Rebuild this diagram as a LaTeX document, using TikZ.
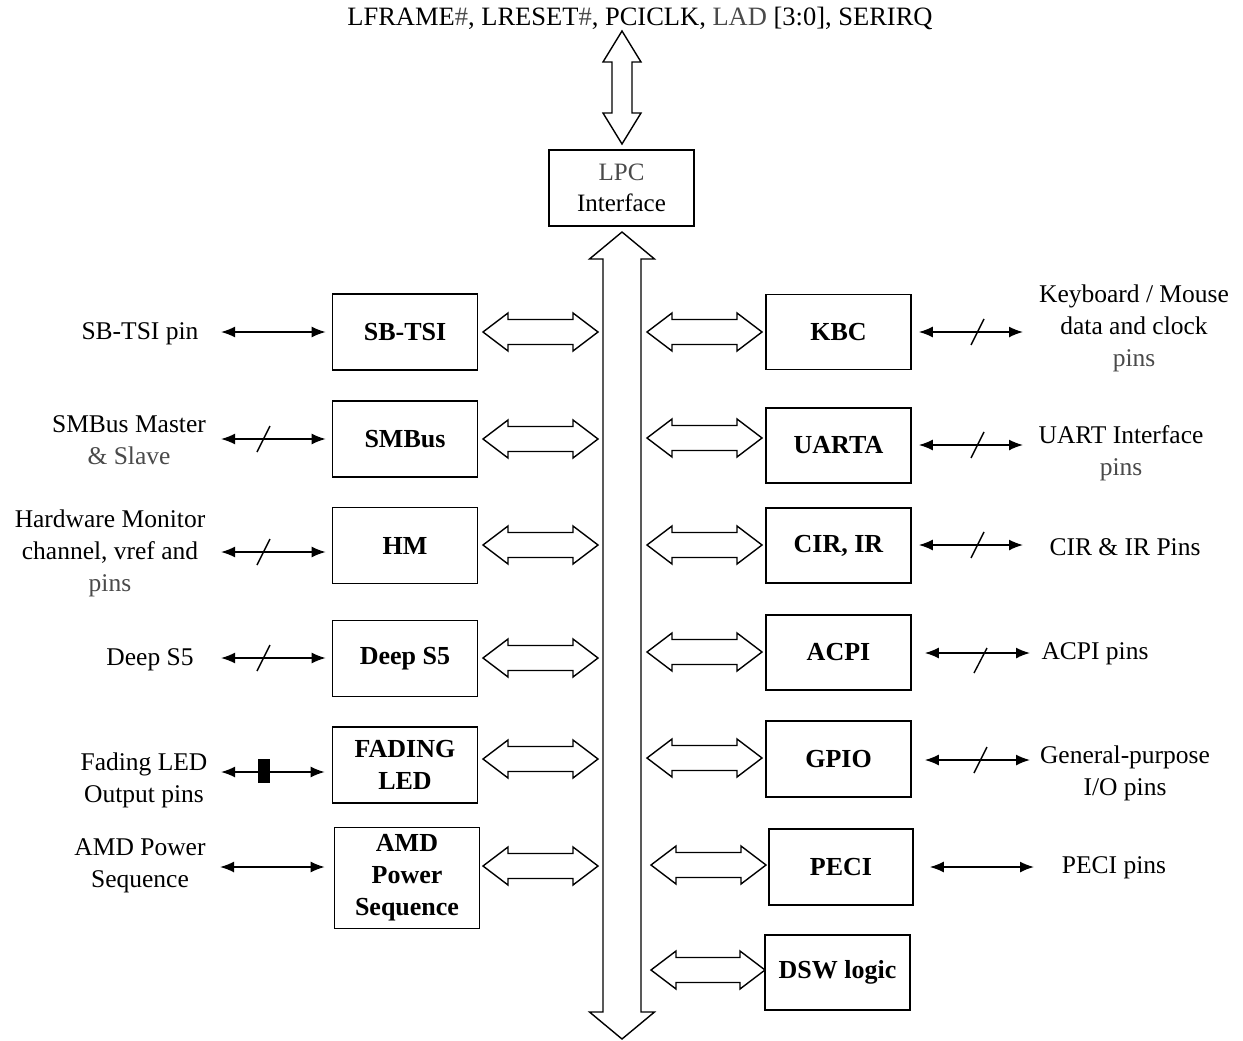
\documentclass[tikz,border=0pt]{standalone}
\usepackage{fontspec}
\setmainfont{Liberation Serif}
\usetikzlibrary{arrows.meta,calc}
\definecolor{lite}{HTML}{4A4A4A}
% horizontal double block arrow: x1, x2, y
\newcommand\hblk[3]{%
  \draw[blk] (#1,#3) -- ++(25,-19) -- ++(0,6.5) -- (#2-25,#3-12.5) -- ++(0,-6.5) -- (#2,#3)
     -- (#2-25,#3+19) -- ++(0,-6.5) -- (#1+25,#3+12.5) -- ++(0,6.5) -- cycle;}
% vertical double block arrow: x, ytop, ybottom, head half width, shaft half width, head length
\newcommand\vblk[6]{%
  \draw[blk] (#1,#2) -- (#1+#4,#2+#6) -- (#1+#5,#2+#6) -- (#1+#5,#3-#6) -- (#1+#4,#3-#6) -- (#1,#3)
     -- (#1-#4,#3-#6) -- (#1-#5,#3-#6) -- (#1-#5,#2+#6) -- (#1-#4,#2+#6) -- cycle;}
\begin{document}
\begin{tikzpicture}[x=1pt,y=-1pt,
  box/.style={draw,line width=1.6pt,inner sep=0pt,font=\fontsize{26}{32}\selectfont\bfseries,align=center},
  lbl/.style={inner sep=0pt,font=\fontsize{25.5}{32}\selectfont,align=center},
  blk/.style={draw,line width=1.4pt,line join=miter,fill=white},
  pin/.style={line width=1.6pt,{Latex[length=14pt,width=11pt]}-{Latex[length=14pt,width=11pt]}},
  slash/.style={line width=1.4pt}]
\useasboundingbox (0,0) rectangle (1243,1041);
\fill[white] (0,0) rectangle (1243,1041);

% title and LPC
\node[lbl,font=\fontsize{26.5}{32}\selectfont] (title) at (640,18) {LFRAME\textcolor{lite}{\#}, LRESET\textcolor{lite}{\#}, PCICLK, \textcolor{lite}{LAD} [3:0], SERIRQ};
\node[box,font=\fontsize{25}{31}\selectfont,minimum width=145pt,minimum height=76pt] (lpc) at (621.5,188) {\textcolor{lite}{LPC}\\Interface};
\coordinate (busc) at (622,635);

% left boxes
\node[box,minimum width=145pt,minimum height=76pt] (sbtsi) at (405,332) {SB-TSI};
\node[box,minimum width=145pt,minimum height=76pt] (smbus) at (405,439) {SMBus};
\node[box,minimum width=145pt,minimum height=76pt] (hm) at (405,545.5) {HM};
\node[box,minimum width=145pt,minimum height=76pt] (ds5) at (405,658.5) {Deep S5};
\node[box,minimum width=145pt,minimum height=76pt] (fled) at (405,765) {FADING\\LED};
\node[box,minimum width=145pt,minimum height=101pt] (amd) at (407,878) {AMD\\Power\\Sequence};

% right boxes
\node[box,minimum width=145pt,minimum height=75pt] (kbc) at (838.5,332) {KBC};
\node[box,minimum width=145pt,minimum height=75pt] (uart) at (838.5,445.5) {UARTA};
\node[box,minimum width=145pt,minimum height=75pt] (cir) at (838.5,545.5) {CIR, IR};
\node[box,minimum width=145pt,minimum height=75pt] (acpi) at (838.5,652.5) {ACPI};
\node[box,minimum width=145pt,minimum height=76pt] (gpio) at (838.5,759) {GPIO};
\node[box,minimum width=144pt,minimum height=76pt] (peci) at (841,867) {PECI};
\node[box,minimum width=145pt,minimum height=75pt] (dsw) at (837.5,972.5) {DSW logic};

% block arrows: title <-> LPC, bus, box <-> bus
\vblk{622}{31}{144}{19}{10}{31}
\vblk{622}{232}{1039}{32.5}{19}{27}
\hblk{483}{598}{332}
\hblk{483}{598}{439}
\hblk{483}{598}{545}
\hblk{483}{598}{658}
\hblk{483}{598}{759}
\hblk{483}{598}{866}
\hblk{647}{762}{332}
\hblk{647}{762}{438}
\hblk{647}{762}{545}
\hblk{647}{762}{652}
\hblk{647}{762}{758}
\hblk{651}{766}{865}
\hblk{651}{765}{970}

% left labels
\node[lbl] (t1) at (140,334) {SB-TSI pin};
\node[lbl] (t2) at (129,440) {SMBus Master\\\textcolor{lite}{\& Slave}};
\node[lbl] (t3) at (110,553) {Hardware Monitor\\channel, vref and\\\textcolor{lite}{pins}};
\node[lbl] (t4) at (150,660) {Deep S5};
\node[lbl] (t5) at (144,780) {Fading LED\\Output pins};
\node[lbl] (t6) at (140,866) {AMD Power\\Sequence};

% right labels
\node[lbl] (u1) at (1134,328) {Keyboard / Mouse\\data and clock\\\textcolor{lite}{pins}};
\node[lbl] (u2) at (1121,453.5) {UART Interface\\\textcolor{lite}{pins}};
\node[lbl] (u3) at (1125,547) {CIR \& IR Pins};
\node[lbl] (u4) at (1095,654) {ACPI pins};
\node[lbl] (u5) at (1125,773.5) {General-purpose\\I/O pins};
\node[lbl] (u6) at (1114,868) {PECI pins};

% pin connector end points
\coordinate (l1) at (221,332);
\coordinate (l2) at (221,439);
\coordinate (l3) at (221,552);
\coordinate (l4) at (221,658);
\coordinate (l5) at (221,772);
\coordinate (l6) at (220,867);
\coordinate (r1) at (1023,332);
\coordinate (r2) at (1023,445);
\coordinate (r3) at (1023,545);
\coordinate (r4) at (1030,653);
\coordinate (r5) at (1030,760);
\coordinate (r6) at (1034,867);

\draw[pin] (l1) -- ($(l1 -| sbtsi.west)+(-6,0)$);
\draw[pin] (l2) -- ($(l2 -| smbus.west)+(-6,0)$);
\draw[pin] (l3) -- ($(l3 -| hm.west)+(-6,0)$);
\draw[pin] (l4) -- ($(l4 -| ds5.west)+(-6,0)$);
\draw[pin] (l5) -- ($(l5 -| fled.west)+(-7,0)$);
\draw[pin] (l6) -- ($(l6 -| amd.west)+(-9,0)$);
\draw[pin] ($(r1 -| kbc.east)+(7,0)$) -- (r1);
\draw[pin] ($(r2 -| uart.east)+(7,0)$) -- (r2);
\draw[pin] ($(r3 -| cir.east)+(7,0)$) -- (r3);
\draw[pin] ($(r4 -| acpi.east)+(13,0)$) -- (r4);
\draw[pin] ($(r5 -| gpio.east)+(13,0)$) -- (r5);
\draw[pin] ($(r6 -| peci.east)+(16,0)$) -- (r6);

% slashes
\draw[slash] (257,452) -- (270,426);
\draw[slash] (257,565) -- (270,539);
\draw[slash] (257,671) -- (270,645);
\fill (257.5,759) rectangle (270,783);
\draw[slash] (971,345) -- (984,319);
\draw[slash] (971,458) -- (984,432);
\draw[slash] (971,558) -- (984,532);
\draw[slash] (974,673) -- (987,648);
\draw[slash] (974,773) -- (987,747);
\end{tikzpicture}
\end{document}
